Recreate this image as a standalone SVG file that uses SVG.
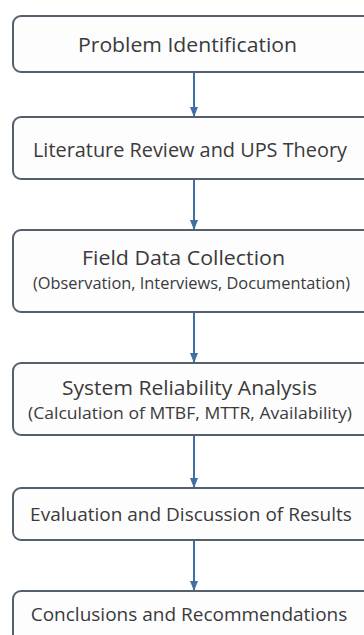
<svg xmlns="http://www.w3.org/2000/svg" width="364" height="635" viewBox="0 0 364 635">
<style>
.box{fill:#fdfdfe;stroke:#55606c;stroke-width:2}
.t{font-family:"Open Sans","Noto Sans",sans-serif;font-size:20px;fill:#3a3a3a;text-anchor:middle;dominant-baseline:central}
.t2{font-size:19px}
.s{font-family:"Open Sans","Noto Sans",sans-serif;font-size:15.5px;fill:#3a3a3a;text-anchor:middle;dominant-baseline:central}
.c{stroke:#3f6fa3;stroke-width:2;fill:none;marker-end:url(#ah)}
</style>
<defs>
<marker id="ah" markerWidth="10" markerHeight="8" refX="9" refY="4" orient="auto" markerUnits="userSpaceOnUse">
<path d="M0,0 L10,4 L0,8 Z" fill="#3f6fa3"/>
</marker>
</defs>
<rect width="364" height="635" fill="#ffffff"/>
<g id="connectors">
<line class="c" x1="194" y1="72" x2="194" y2="116"/>
<line class="c" x1="194" y1="179" x2="194" y2="229"/>
<line class="c" x1="194" y1="312" x2="194" y2="362"/>
<line class="c" x1="194" y1="435" x2="194" y2="487"/>
<line class="c" x1="194" y1="540" x2="194" y2="590"/>
</g>
<g id="n1"><rect class="box" x="13" y="16" width="362" height="56" rx="8"/><text class="t" x="187.5" y="44" textLength="219" lengthAdjust="spacingAndGlyphs">Problem Identification</text></g>
<g id="n2"><rect class="box" x="13" y="117" width="362" height="62" rx="8"/><text class="t" x="190" y="149" textLength="314" lengthAdjust="spacingAndGlyphs">Literature Review and UPS Theory</text></g>
<g id="n3"><rect class="box" x="13" y="230" width="362" height="82" rx="8"/><text class="t" x="183.5" y="257" textLength="203" lengthAdjust="spacingAndGlyphs">Field Data Collection</text><text class="s" x="191.5" y="283" textLength="317" lengthAdjust="spacingAndGlyphs">(Observation, Interviews, Documentation)</text></g>
<g id="n4"><rect class="box" x="13" y="363" width="362" height="72" rx="8"/><text class="t" x="189.5" y="387" textLength="255" lengthAdjust="spacingAndGlyphs">System Reliability Analysis</text><text class="s" x="190" y="413" textLength="324" lengthAdjust="spacingAndGlyphs">(Calculation of MTBF, MTTR, Availability)</text></g>
<g id="n5"><rect class="box" x="13" y="488" width="362" height="52" rx="8"/><text class="t t2" x="191" y="514">Evaluation and Discussion of Results</text></g>
<g id="n6"><rect class="box" x="13" y="591" width="362" height="60" rx="8"/><text class="t t2" x="189" y="614">Conclusions and Recommendations</text></g>
</svg>
